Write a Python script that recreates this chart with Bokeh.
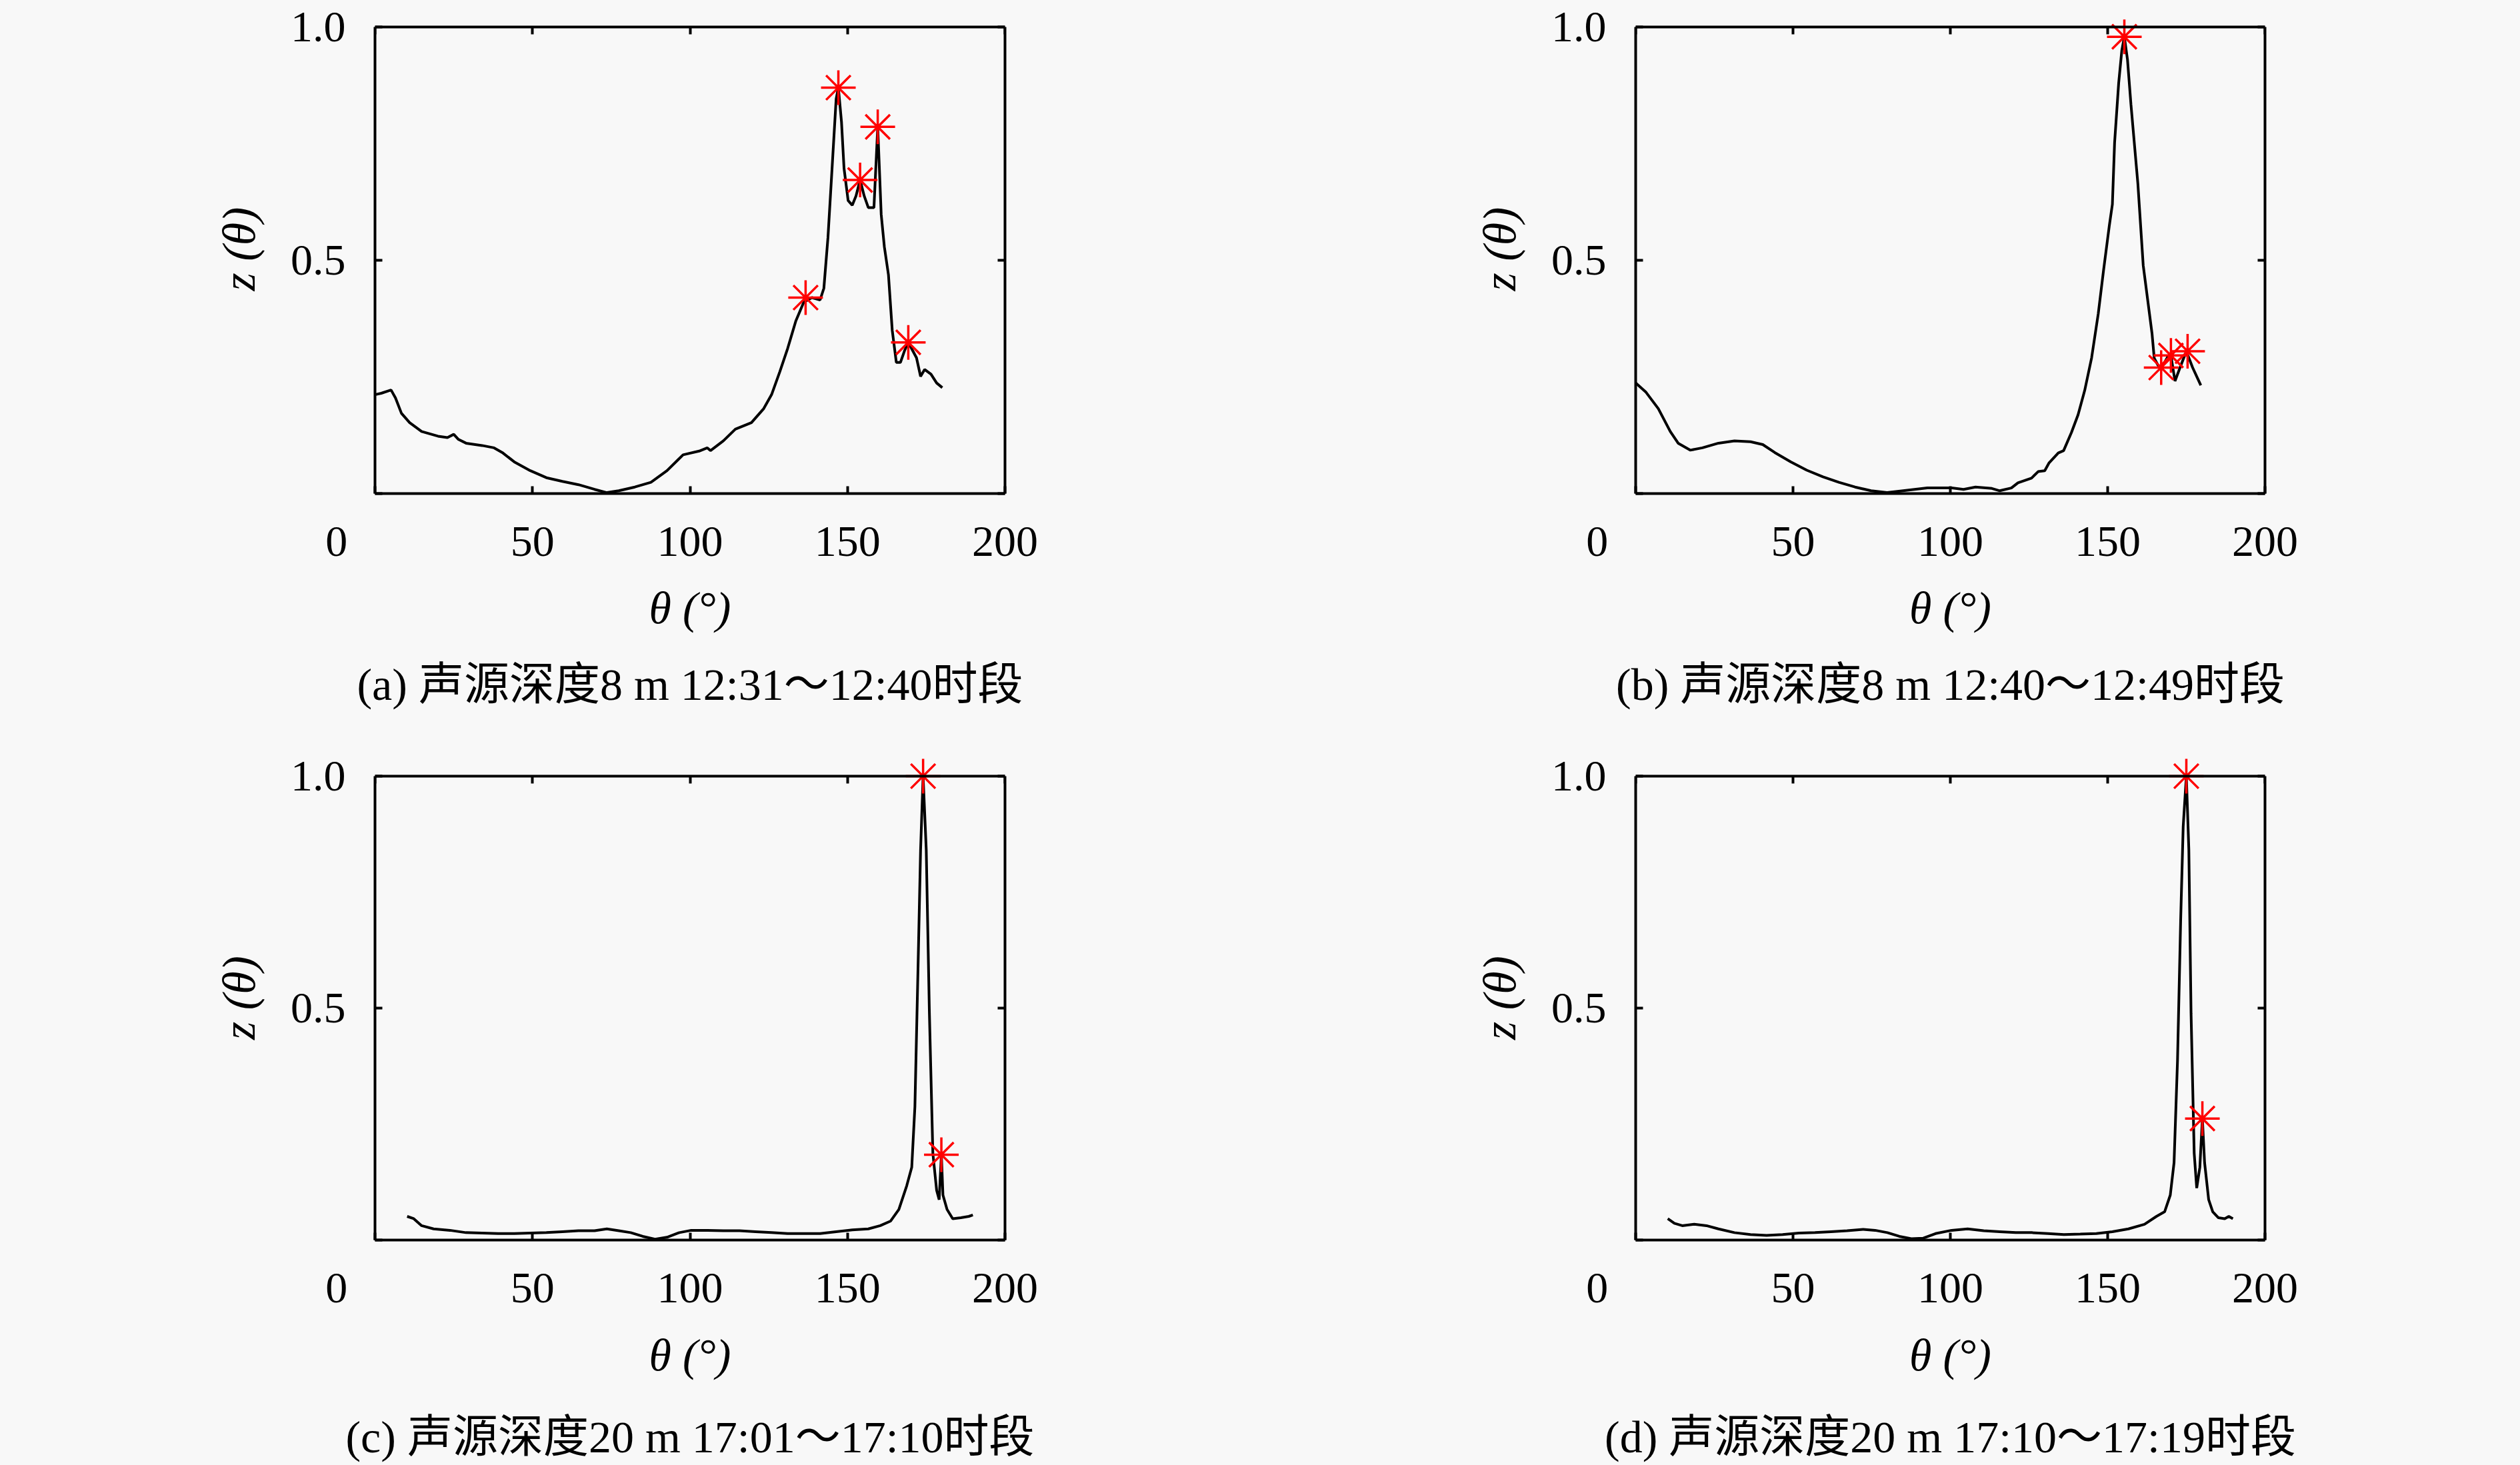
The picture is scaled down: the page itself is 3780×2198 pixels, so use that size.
from bokeh.plotting import figure
from bokeh.layouts import column, row
from bokeh.models import Range1d, FixedTicker, LinearAxis
from bokeh.embed import file_html
from bokeh.resources import INLINE

# ---------------- data ----------------
X_TICKS = [0, 50, 100, 150, 200]
Y_TICKS = [0, 0.5, 1.0]
Y_TICK_LABELS = {0: "", 0.5: "0.5", 1: "1.0"}
# the "0" label sits left of its tick in the reference (padded with no-break spaces)
X_TICK_LABELS = {0: "0" + "\u00a0" * 7, 50: "50", 100: "100", 150: "150", 200: "200"}

A_THETA = [0, 2, 5.1, 6.5, 8.4, 11, 14.8, 20, 23, 25, 26.5, 28.9, 34, 37.8, 40.4, 44.2, 49.3, 54.4, 59.5, 64.6,
           69.7, 73.6, 77.4, 82.5, 87.6, 92.7, 97.8, 102.9, 105.5, 106.5, 110.6, 114.4, 119.5, 123.4, 125.9,
           128.5, 131, 133.6, 136.1, 138.7, 141.3, 142.5, 143.8, 145.1, 146.4, 147.1, 148.1, 148.9, 150.2, 151.5,
           152.7, 154, 155.3, 156.6, 158.4, 159.6, 160.7, 161.7, 163, 164.2, 165.5, 166.8, 168.1, 169.3, 171.9,
           173.2, 174.5, 176.5, 178.3, 180.1]
A_Z = [0.212, 0.215, 0.222, 0.205, 0.172, 0.152, 0.133, 0.123, 0.120, 0.127, 0.116, 0.108, 0.103, 0.098, 0.088,
       0.068, 0.049, 0.034, 0.026, 0.019, 0.009, 0.002, 0.006, 0.014, 0.024, 0.049, 0.083, 0.091, 0.098, 0.092,
       0.113, 0.138, 0.152, 0.182, 0.212, 0.261, 0.311, 0.370, 0.410, 0.420, 0.415, 0.44, 0.549, 0.697, 0.846,
       0.870, 0.796, 0.697, 0.628, 0.618, 0.638, 0.672, 0.638, 0.613, 0.613, 0.786, 0.598, 0.529, 0.469, 0.350,
       0.281, 0.281, 0.306, 0.324, 0.291, 0.251, 0.266, 0.256, 0.237, 0.227]
A_PK_THETA = [136.7, 147.1, 154.0, 159.6, 169.3]
A_PK_Z = [0.420, 0.870, 0.672, 0.786, 0.324]

B_THETA = [0, 3.3, 7.2, 11, 13.5, 17.4, 21.2, 26.3, 31.4, 36.5, 40.4, 44.2, 49.3, 54.4, 59.5, 64.6, 69.7, 74.8,
           79.9, 85, 92.7, 100.4, 104.2, 108, 113.2, 115.7, 119.4, 121.5, 125.8, 127.9, 130, 131.4, 134.3, 136,
           138.5, 140.6, 142.7, 144.9, 147, 148.7, 150.5, 151.5, 152.2, 153.5, 154.5, 155.3, 156.3, 157.4, 159.6,
           161.3, 164.1, 164.8, 166, 167, 168, 169, 170.1, 171.4, 173, 175, 177, 179.6]
B_Z = [0.237, 0.217, 0.182, 0.133, 0.108, 0.093, 0.098, 0.108, 0.113, 0.111, 0.105, 0.088, 0.068, 0.050, 0.036,
       0.024, 0.014, 0.006, 0.002, 0.006, 0.012, 0.012, 0.009, 0.014, 0.011, 0.006, 0.012, 0.023, 0.033, 0.047,
       0.049, 0.066, 0.087, 0.092, 0.131, 0.169, 0.221, 0.291, 0.385, 0.479, 0.573, 0.62, 0.752, 0.88, 0.95,
       0.979, 0.93, 0.834, 0.664, 0.489, 0.343, 0.29, 0.275, 0.27, 0.28, 0.292, 0.296, 0.241, 0.27, 0.305, 0.27,
       0.232]
B_PK_THETA = [155.3, 167.0, 170.1, 175.4]
B_PK_Z = [0.979, 0.270, 0.296, 0.305]

C_THETA = [10.2, 12.3, 14.8, 18.6, 23.8, 28.9, 34, 39.1, 44.2, 49.3, 54.4, 59.5, 64.6, 69.7, 73.6, 77.4, 81.2,
           85, 88.9, 92.7, 96.6, 100.4, 105.5, 110.6, 115.7, 120.8, 125.9, 131, 136.1, 141.3, 146.4, 151.5,
           156.6, 160.4, 163.7, 166.3, 168.8, 170.4, 171.4, 172.4, 173.2, 174, 175, 176, 177.1, 178.3, 179.1,
           179.8, 180.3, 181.6, 183.4, 186, 188.5, 189.8]
C_Z = [0.051, 0.046, 0.031, 0.024, 0.021, 0.016, 0.015, 0.014, 0.014, 0.015, 0.016, 0.018, 0.020, 0.020, 0.024,
       0.020, 0.016, 0.008, 0.002, 0.006, 0.016, 0.021, 0.021, 0.020, 0.020, 0.018, 0.016, 0.014, 0.014, 0.014,
       0.018, 0.022, 0.024, 0.031, 0.041, 0.066, 0.117, 0.157, 0.288, 0.590, 0.841, 1.0, 0.841, 0.489, 0.187,
       0.107, 0.087, 0.184, 0.097, 0.066, 0.046, 0.048, 0.051, 0.054]
C_PK_THETA = [174.0, 179.8]
C_PK_Z = [1.0, 0.184]

D_THETA = [10.2, 12.3, 14.8, 18.6, 22.5, 26.3, 31.4, 36.5, 41.6, 46.7, 51.9, 57, 62.1, 67.2, 72.3, 76.1, 80,
           83.8, 87.6, 91.4, 95.3, 100.4, 105.5, 110.6, 115.7, 120.8, 125.9, 131, 136.1, 141.3, 146.4, 151.5,
           156.6, 161.7, 165.5, 168.1, 169.9, 171.1, 172.2, 173.2, 174, 175.0, 175.8, 176.5, 177.5, 178.3, 179.3,
           180.1, 180.8, 182.1, 183.4, 185.2, 187.2, 188.5, 189.8]
D_Z = [0.046, 0.036, 0.031, 0.034, 0.031, 0.024, 0.016, 0.012, 0.010, 0.012, 0.015, 0.016, 0.018, 0.020, 0.023,
       0.021, 0.016, 0.008, 0.003, 0.004, 0.014, 0.021, 0.024, 0.020, 0.018, 0.016, 0.016, 0.014, 0.012, 0.013,
       0.014, 0.018, 0.024, 0.034, 0.051, 0.061, 0.097, 0.167, 0.388, 0.690, 0.891, 1.0, 0.841, 0.489, 0.187,
       0.112, 0.157, 0.262, 0.167, 0.087, 0.061, 0.048, 0.046, 0.051, 0.046]
D_PK_THETA = [175.0, 180.1]
D_PK_Z = [1.0, 0.262]

CAPTIONS = ["(a) 声源深度8 m 12:31～12:40时段",
            "(b) 声源深度8 m 12:40～12:49时段",
            "(c) 声源深度20 m 17:01～17:10时段",
            "(d) 声源深度20 m 17:10～17:19时段"]
X_LABEL = "θ (°)"
Y_LABEL = "z (θ)"

# ---------------- style ----------------
BG = "#f8f8f8"
SERIF = "Liberation Serif"
CAP_FONT = "'Liberation Serif', 'Noto Sans CJK SC'"
TICK_SIZE = "66px"
LABEL_SIZE = "68px"
YLABEL_SIZE = "70px"
CAP_SIZE = "68px"
LW = 4
FIG_W, FIG_H = 1890, 1099


def style_axis(ax, ticks, overrides, show):
    ax.ticker = FixedTicker(ticks=ticks)
    ax.major_label_overrides = overrides
    ax.axis_line_color = "black"
    ax.axis_line_width = LW
    ax.major_tick_line_color = "black"
    ax.major_tick_line_width = LW
    ax.major_tick_in = 11
    ax.major_tick_out = 0
    ax.minor_tick_line_color = None
    ax.major_label_text_font = SERIF
    if show:
        ax.major_label_text_font_size = TICK_SIZE
        ax.major_label_text_color = "black"
    else:
        ax.major_label_text_font_size = "0px"
        ax.major_label_text_color = None
        ax.major_label_standoff = 0


def make_panel(theta, z, pk_t, pk_z, caption, left, box_top, box_bottom, frame_top,
               tick_standoff, label_standoff, cap_standoff):
    frame_w = 945 if left == 562 else 944
    right = FIG_W - left - frame_w
    bottom = FIG_H - box_bottom
    y_end = (box_bottom - frame_top) / (box_bottom - box_top)
    p = figure(width=FIG_W, height=FIG_H, output_backend="svg", toolbar_location=None,
               x_range=Range1d(0, 200), y_range=Range1d(0, y_end),
               min_border_left=left, min_border_right=right,
               min_border_top=frame_top, min_border_bottom=bottom,
               background_fill_color=BG, border_fill_color=BG,
               outline_line_color=None)
    p.grid.visible = False

    style_axis(p.xaxis[0], X_TICKS, X_TICK_LABELS, True)
    p.xaxis.major_label_standoff = tick_standoff
    p.xaxis.axis_label = X_LABEL
    p.xaxis.axis_label_text_font = SERIF
    p.xaxis.axis_label_text_font_size = LABEL_SIZE
    p.xaxis.axis_label_text_font_style = "italic"
    p.xaxis.axis_label_text_color = "black"
    p.xaxis.axis_label_standoff = label_standoff

    style_axis(p.yaxis[0], Y_TICKS, Y_TICK_LABELS, True)
    p.yaxis.bounds = (0, 1)
    p.yaxis.major_label_standoff = 44
    p.yaxis.axis_label = Y_LABEL
    p.yaxis.axis_label_text_font = SERIF
    p.yaxis.axis_label_text_font_size = YLABEL_SIZE
    p.yaxis.axis_label_text_font_style = "italic"
    p.yaxis.axis_label_text_color = "black"
    p.yaxis.axis_label_standoff = 36

    top_ax = LinearAxis(fixed_location=1.0)
    style_axis(top_ax, X_TICKS, {}, False)
    p.add_layout(top_ax, "above")
    right_ax = LinearAxis(bounds=(0, 1))
    style_axis(right_ax, Y_TICKS, {}, False)
    p.add_layout(right_ax, "right")

    # caption: a tick-less axis below the x axis that carries only its label
    cap_ax = LinearAxis(ticker=FixedTicker(ticks=[]), axis_label=caption,
                        axis_line_color=None, major_tick_line_color=None, minor_tick_line_color=None,
                        major_tick_in=0, major_tick_out=0, major_label_standoff=0,
                        major_label_text_font_size="0px", major_label_text_color=None,
                        axis_label_standoff=cap_standoff, axis_label_text_font=CAP_FONT,
                        axis_label_text_font_size=CAP_SIZE, axis_label_text_font_style="normal",
                        axis_label_text_color="black")
    p.add_layout(cap_ax, "below")

    p.line(theta, z, line_color="black", line_width=LW)
    p.scatter(pk_t, pk_z, marker="asterisk", size=52, line_color="red", line_width=3.5)
    return p


pa = make_panel(A_THETA, A_Z, A_PK_THETA, A_PK_Z, CAPTIONS[0], 562, 40, 740, 6, 34, 23, 36)
pb = make_panel(B_THETA, B_Z, B_PK_THETA, B_PK_Z, CAPTIONS[1], 563, 40, 740, 6, 34, 23, 36)
pc = make_panel(C_THETA, C_Z, C_PK_THETA, C_PK_Z, CAPTIONS[2], 562, 65, 761, 34, 34, 24, 44)
pd = make_panel(D_THETA, D_Z, D_PK_THETA, D_PK_Z, CAPTIONS[3], 563, 65, 761, 34, 34, 24, 44)

layout = column(row(pa, pb, spacing=0), row(pc, pd, spacing=0), spacing=0)

html = file_html(layout, INLINE)
html = html.replace("<head>", "<head><style>body{background:%s}</style>" % BG, 1)
open("out.html", "w").write(html)
